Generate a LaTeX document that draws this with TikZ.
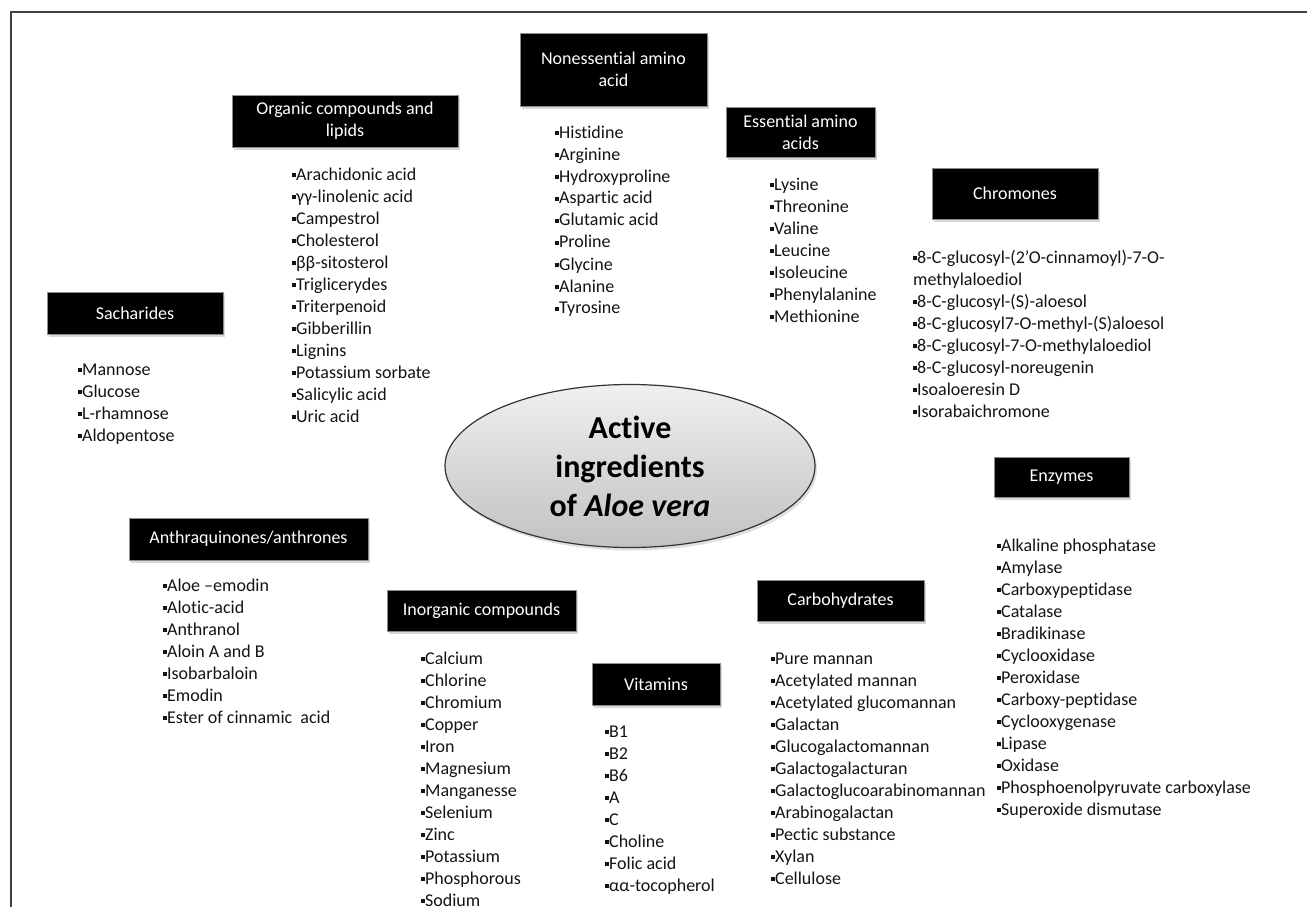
\documentclass[tikz,border=0pt]{standalone}
\usepackage{fontspec}
\setmainfont{Carlito}[Ligatures=NoCommon]
\usetikzlibrary{shapes.geometric,shadows}
\newcommand{\bl}{\raisebox{0.16em}{\rule{0.22em}{0.22em}}}
\newcommand{\lst}[1]{\begin{tabular}[t]{@{}l@{}}#1\end{tabular}}
\begin{document}
\begin{tikzpicture}[x=1pt,y=-1pt,
  catbox/.style={fill=black, draw=black!45, line width=0.6pt, text=white,
    font=\fontsize{18}{22}\selectfont, align=center, inner sep=0pt,
    drop shadow={shadow xshift=2pt, shadow yshift=-3pt, opacity=0.3}},
  listtext/.style={anchor=base west, inner sep=0pt, text=black!92,
    font=\fontsize{18}{22}\selectfont},
  framelines/.style={draw=black!75, line width=1.2pt}
]
\useasboundingbox (0,0) rectangle (1307,907);
\fill[white] (0,0) rectangle (1307,907);
\draw[framelines] (1307,12) -- (11,12) -- (11,907);

% central ellipse
\node[ellipse, top color=black!6, bottom color=black!24, draw=black!80, line width=1.2pt, inner sep=0pt,
  minimum width=370pt, minimum height=163pt, align=center,
  font=\fontsize{32}{39}\selectfont\bfseries,
  drop shadow={shadow xshift=2pt, shadow yshift=-3pt, opacity=0.25}]
  (center) at (630,466) {Active\\ingredients\\of \textit{Aloe vera}};

% category boxes
\node[catbox, minimum width=187pt, minimum height=73pt] (non) at (613.5,69.5) {Nonessential amino\\acid};
\node[catbox, minimum width=226pt, minimum height=52pt] (org) at (345,121) {Organic compounds and\\lipids};
\node[catbox, minimum width=149pt, minimum height=50pt] (ess) at (800.5,132) {Essential amino\\acids};
\node[catbox, minimum width=166pt, minimum height=51pt] (chr) at (1015,193.5) {Chromones};
\node[catbox, minimum width=176pt, minimum height=42pt] (sac) at (135,313) {Sacharides};
\node[catbox, minimum width=135pt, minimum height=40pt] (enz) at (1061.5,477) {Enzymes};
\node[catbox, minimum width=239pt, minimum height=42pt] (ant) at (248.5,539) {Anthraquinones/anthrones};
\node[catbox, minimum width=189pt, minimum height=41pt] (ino) at (481.5,610.5) {Inorganic compounds};
\node[catbox, minimum width=167pt, minimum height=41pt] (car) at (840.5,600.5) {Carbohydrates};
\node[catbox, minimum width=128pt, minimum height=42pt] (vit) at (656,684) {Vitamins};

% lists
\node[listtext] (lorg) at (292,180) {\lst{\bl Arachidonic acid\\\bl γγ-linolenic acid\\\bl Campestrol\\\bl Cholesterol\\\bl ββ-sitosterol\\\bl Triglicerydes\\\bl Triterpenoid\\\bl Gibberillin\\\bl Lignins\\\bl Potassium sorbate\\\bl Salicylic acid\\\bl Uric acid}};
\node[listtext] (lnon) at (555,138) {\lst{\bl Histidine\\\bl Arginine\\\bl Hydroxyproline\\\bl Aspartic acid\\\bl Glutamic acid\\\bl Proline\\\bl Glycine\\\bl Alanine\\\bl Tyrosine}};
\node[listtext] (less) at (770,190) {\lst{\bl Lysine\\\bl Threonine\\\bl Valine\\\bl Leucine\\\bl Isoleucine\\\bl Phenylalanine\\\bl Methionine}};
\node[listtext] (lchr) at (913,263) {\lst{\bl 8-C-glucosyl-(2’O-cinnamoyl)-7-O-\\methylaloediol\\\bl 8-C-glucosyl-(S)-aloesol\\\bl 8-C-glucosyl7-O-methyl-(S)aloesol\\\bl 8-C-glucosyl-7-O-methylaloediol\\\bl 8-C-glucosyl-noreugenin\\\bl Isoaloeresin D\\\bl Isorabaichromone}};
\node[listtext] (lsac) at (78,375) {\lst{\bl Mannose\\\bl Glucose\\\bl L-rhamnose\\\bl Aldopentose}};
\node[listtext] (lant) at (163,591) {\lst{\bl Aloe –emodin\\\bl Alotic-acid\\\bl Anthranol\\\bl Aloin A and B\\\bl Isobarbaloin\\\bl Emodin\\\bl Ester of cinnamic\ \ acid}};
\node[listtext] (lino) at (421,664) {\lst{\bl Calcium\\\bl Chlorine\\\bl Chromium\\\bl Copper\\\bl Iron\\\bl Magnesium\\\bl Manganesse\\\bl Selenium\\\bl Zinc\\\bl Potassium\\\bl Phosphorous\\\bl Sodium}};
\node[listtext] (lvit) at (605,737) {\lst{\bl B1\\\bl B2\\\bl B6\\\bl A\\\bl C\\\bl Choline\\\bl Folic acid\\\bl αα-tocopherol}};
\node[listtext] (lcar) at (771,664) {\lst{\bl Pure mannan\\\bl Acetylated mannan\\\bl Acetylated glucomannan\\\bl Galactan\\\bl Glucogalactomannan\\\bl Galactogalacturan\\\bl Galactoglucoarabinomannan\\\bl Arabinogalactan\\\bl Pectic substance\\\bl Xylan\\\bl Cellulose}};
\node[listtext] (lenz) at (997,551) {\lst{\bl Alkaline phosphatase\\\bl Amylase\\\bl Carboxypeptidase\\\bl Catalase\\\bl Bradikinase\\\bl Cyclooxidase\\\bl Peroxidase\\\bl Carboxy-peptidase\\\bl Cyclooxygenase\\\bl Lipase\\\bl Oxidase\\\bl Phosphoenolpyruvate carboxylase\\\bl Superoxide dismutase}};
\end{tikzpicture}
\end{document}
